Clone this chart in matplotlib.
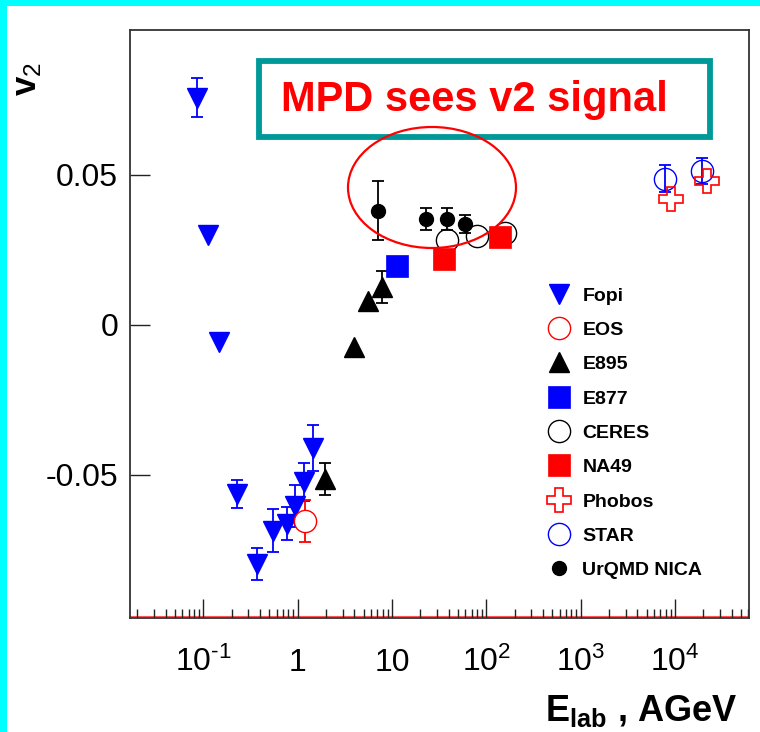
import numpy as np
import matplotlib
matplotlib.use("Agg")
import matplotlib.pyplot as plt
from matplotlib.lines import Line2D
from matplotlib.patches import Rectangle, Ellipse
from matplotlib.ticker import LogLocator, NullLocator, NullFormatter

plt.rcParams['font.family'] = ['Liberation Sans', 'DejaVu Sans']
plt.rcParams['mathtext.fontset'] = 'custom'
plt.rcParams['mathtext.rm'] = 'Liberation Sans'
plt.rcParams['mathtext.it'] = 'Liberation Sans:italic'
plt.rcParams['mathtext.bf'] = 'Liberation Sans:bold'

# ---- elliptic flow v2 vs beam energy (E_lab, AGeV) ----
fopi_e = [0.085, 0.113, 0.145, 0.23, 0.37, 0.55, 0.77, 0.94, 1.18, 1.47]
fopi_v2 = [0.0757, 0.0301, -0.0056, -0.0563, -0.0797, -0.0686, -0.0663, -0.0602, -0.0524, -0.0409]
fopi_err = [0.0065, 0.0, 0.0, 0.0047, 0.0052, 0.0072, 0.0055, 0.0070, 0.0063, 0.0077]

eos_e = [1.20]
eos_v2 = [-0.0652]
eos_err = [0.0070]

e895_e = [1.96, 3.97, 5.63, 7.93]
e895_v2 = [-0.0513, -0.0073, 0.0081, 0.0126]
e895_err = [0.0053, 0.0, 0.0, 0.0054]

e877_e = [11.3]
e877_v2 = [0.0197]

ceres_e = [38.0, 80.0, 159.0]
ceres_v2 = [0.0284, 0.0298, 0.0307]

na49_e = [36.0, 140.0]
na49_v2 = [0.0220, 0.0292]

phobos_e = [9060.0, 21800.0]
phobos_v2 = [0.0420, 0.0479]

star_e = [7890.0, 19300.0]
star_v2 = [0.0487, 0.0513]
star_err = [0.0045, 0.0043]

urqmd_e = [7.1, 23.0, 38.0, 60.0]
urqmd_v2 = [0.0381, 0.0353, 0.0354, 0.0337]
urqmd_err = [0.0099, 0.0037, 0.0036, 0.0030]

x_ticks = [0.1, 1, 10, 100, 1e3, 1e4]
x_ticklabels = [r'$\mathregular{10^{\text{-}1}}$', '1', '10', r'$\mathregular{10^{2}}$',
                r'$\mathregular{10^{3}}$', r'$\mathregular{10^{4}}$']
y_ticks = [-0.05, 0.0, 0.05]
y_ticklabels = ['-0.05', '0', '0.05']

legend_order = ['Fopi', 'EOS', 'E895', 'E877', 'CERES', 'NA49', 'Phobos', 'STAR', 'UrQMD NICA']

BLUE = '#0000ff'
RED = '#ff0000'

styles = {
    'Fopi':       dict(marker='v', ms=15, mfc=BLUE, mec=BLUE, mew=1.0),
    'EOS':        dict(marker='o', ms=16, mfc='white', mec=RED, mew=1.0),
    'E895':       dict(marker='^', ms=15, mfc='black', mec='black', mew=1.0),
    'E877':       dict(marker='s', ms=16, mfc=BLUE, mec=BLUE, mew=0.5),
    'CERES':      dict(marker='o', ms=16, mfc='none', mec='black', mew=1.0),
    'NA49':       dict(marker='s', ms=16, mfc=RED, mec=RED, mew=0.5),
    'Phobos':     dict(marker='P', ms=17, mfc='none', mec=RED, mew=1.2),
    'STAR':       dict(marker='o', ms=16, mfc='none', mec=BLUE, mew=1.0),
    'UrQMD NICA': dict(marker='o', ms=10, mfc='black', mec='black', mew=1.0),
}
err_color = {'Fopi': BLUE, 'EOS': RED, 'E895': 'black', 'STAR': BLUE, 'UrQMD NICA': 'black'}

series = [
    ('Fopi', fopi_e, fopi_v2, fopi_err),
    ('E895', e895_e, e895_v2, e895_err),
    ('EOS', eos_e, eos_v2, eos_err),
    ('E877', e877_e, e877_v2, None),
    ('CERES', ceres_e, ceres_v2, None),
    ('UrQMD NICA', urqmd_e, urqmd_v2, urqmd_err),
    ('NA49', na49_e, na49_v2, None),
    ('STAR', star_e, star_v2, star_err),
    ('Phobos', phobos_e, phobos_v2, None),
]

W, H = 760, 732
fig = plt.figure(figsize=(W / 100, H / 100), dpi=100, facecolor='white')


def fx(px):
    return px / W


def fy(py):
    return 1 - py / H


# axes frame in pixel layout
ax_l, ax_r, ax_t, ax_b = 130, 749, 30, 618
ax = fig.add_axes([fx(ax_l), fy(ax_b), (ax_r - ax_l) / W, (ax_b - ax_t) / H])

for z, (name, e, v, err) in enumerate(series):
    e = np.asarray(e)
    v = np.asarray(v)
    if err is not None:
        err = np.asarray(err)
        m = err > 0
        ax.errorbar(e[m], v[m], yerr=err[m], fmt='none', ecolor=err_color[name],
                    elinewidth=1.3, capsize=4, capthick=1.3, zorder=2 + z * 0.1)
    ax.plot(e, v, ls='none', zorder=3 + z * 0.1, **styles[name])

ax.set_xscale('log')
ax.set_xlim(0.0167, 6.1e4)
ax.set_ylim(-0.0977, 0.0983)

ax.set_xticks(x_ticks)
ax.set_xticklabels(x_ticklabels)
ax.xaxis.set_minor_locator(LogLocator(base=10, subs=np.arange(2, 10)))
ax.xaxis.set_minor_formatter(NullFormatter())
ax.set_yticks(y_ticks)
ax.set_yticklabels(y_ticklabels)
ax.yaxis.set_minor_locator(NullLocator())

tick_col = '#222222'
ax.tick_params(axis='x', which='major', direction='in', length=13.7, width=1.0,
               color=tick_col, top=False, labelsize=23, pad=38)
ax.tick_params(axis='x', which='minor', direction='in', length=6.5, width=1.0,
               color=tick_col, top=False)
ax.tick_params(axis='y', which='major', direction='in', length=14.4, width=1.0,
               color=tick_col, right=False, labelsize=23, pad=8.6)
plt.setp(ax.get_xticklabels(), va='baseline')

for s in ax.spines.values():
    s.set_color('#333333')
    s.set_linewidth(1.3)

# thin red base line just above the bottom frame
ax.plot([0, 1], [0.003, 0.003], transform=ax.transAxes, color='#ff5555', lw=0.8, zorder=1)

# legend
handles = [Line2D([], [], ls='none', **styles[k]) for k in legend_order]
leg = ax.legend(handles, legend_order, loc='upper left',
                bbox_to_anchor=((547 - ax_l) / (ax_r - ax_l), (ax_b - 287) / (ax_b - ax_t)),
                frameon=False, borderpad=0, borderaxespad=0, handlelength=1.2,
                handletextpad=0.62, labelspacing=0.86,
                prop=dict(family='Liberation Sans', weight='bold', size=14))

# axis titles
fig.text(fx(28), fy(79), r'$\mathbf{v}_{2}$', rotation=90, ha='center', va='center',
         fontsize=25)
fig.text(fx(737), fy(721), r'$\mathbf{E_{lab}}$ , AGeV', ha='right', va='baseline',
         fontsize=26, fontweight='bold')

# annotation box and highlight ellipse
fig.add_artist(Rectangle((fx(259), fy(137)), (710 - 259) / W, (137 - 61) / H,
                         transform=fig.transFigure, fill=False, ec='#009999', lw=4.2,
                         zorder=5))
fig.text(fx(474.5), fy(111.5), 'MPD sees v2 signal', ha='center', va='baseline',
         fontsize=30, fontweight='bold', color=RED, zorder=6)
fig.add_artist(Ellipse((fx(432), fy(187.5)), 168 / W, 121 / H, transform=fig.transFigure,
                       fill=False, ec=RED, lw=1.6, zorder=5))

# cyan frame strips
fig.add_artist(Rectangle((0, fy(5.7)), 1, 5.7 / H, transform=fig.transFigure,
                         color='#00ffff', lw=0, zorder=10))
fig.add_artist(Rectangle((0, 0), fx(7.3), 1, transform=fig.transFigure,
                         color='#00ffff', lw=0, zorder=10))

fig.savefig('out.png', dpi=100, facecolor='white')
